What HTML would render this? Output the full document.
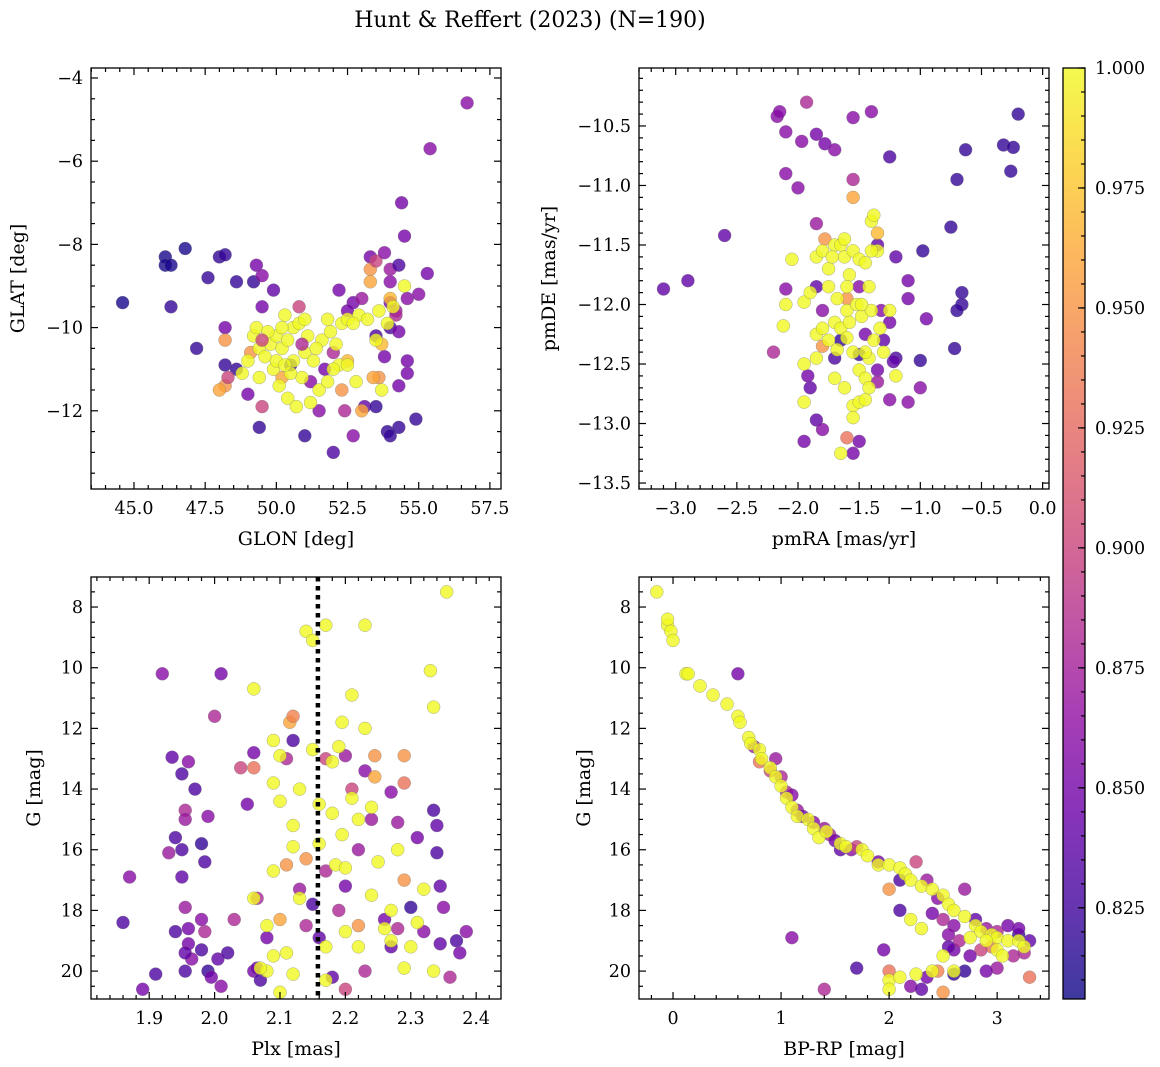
<!DOCTYPE html>
<html><head><meta charset="utf-8"><style>
body{margin:0;background:#fff;}
svg{display:block;font-family:"DejaVu Serif","Liberation Serif",serif;}
</style></head><body>
<svg id="fig" width="1160" height="1067" viewBox="0 0 1160 1067">
<text x="530" y="27" font-size="22" text-anchor="middle">Hunt &amp; Reffert (2023) (N=190)</text>
</svg>
<script>
const VMIN = 0.806, VMAX = 1.0;
const skyPoints = [
[44.6,-9.4,.81],[46.1,-8.3,.81],[46.1,-8.5,.81],[46.3,-8.5,.81],[46.8,-8.1,.81],[46.3,-9.5,.82],[47.2,-10.5,.82],[47.6,-8.8,.82],[48.0,-8.3,.82],[48.2,-8.25,.82],[48.6,-8.9,.82],[49.2,-8.9,.82],[49.3,-8.5,.85],[49.5,-8.75,.86],[49.5,-9.5,.85],[49.9,-9.1,.84],[50.8,-9.5,.9],[52.2,-9.1,.85],[52.7,-9.4,.85],[52.5,-9.6,.85],[53.3,-8.3,.85],[53.3,-8.6,.95],[53.5,-8.4,.9],[53.8,-8.2,.86],[54.0,-8.6,.87],[54.3,-8.5,.83],[54.4,-7.0,.85],[54.5,-7.8,.85],[55.3,-8.7,.85],[55.4,-5.7,.86],[56.7,-4.6,.86],[54.0,-8.9,.86],[54.0,-9.4,.85],[54.6,-9.3,.86],[55.0,-9.2,.86],[54.5,-9.0,1],[54.2,-9.6,.87],[53.0,-9.3,.87],
[49.0,-11.6,.85],[49.4,-12.4,.82],[51.0,-12.6,.82],[51.5,-12.0,.86],[52.0,-13.0,.83],[52.4,-12.0,.88],[52.7,-12.6,.86],[53.1,-11.9,.84],[53.5,-11.9,.82],[53.9,-12.5,.82],[54.0,-12.6,.82],[54.3,-12.4,.82],[54.9,-12.2,.82],[54.6,-11.1,.85],[54.6,-10.8,.85],[54.3,-11.4,.85],[53.6,-11.2,.95],[53.8,-10.7,.85],[53.5,-10.2,.83],[54.0,-10.0,.83],[54.3,-10.1,.85],[54.2,-9.7,.88],[48.2,-10.0,.85],[48.2,-10.9,.82],[48.6,-11.0,.82],[48.2,-11.4,.95],[48.3,-11.2,.9],[49.5,-11.9,.9],[50.5,-10.9,.82],[51.2,-11.3,.86],[52.0,-10.6,.88],[51.7,-11.0,.85],
[48.2,-10.3,.95],[48.0,-11.5,.96],[53.4,-11.2,.96],[53.0,-12.0,.96],[53.7,-10.4,.97],[52.5,-10.8,.97],[50.2,-11.2,.96],[49.1,-10.6,.95],[52.3,-11.5,.95],[53.3,-8.9,.96],[54.0,-9.3,.97],
[49.2,-10.2,1],[49.4,-10.5,1],[49.8,-10.4,1],[49.6,-10.7,1],[49.9,-11.0,1],[50.0,-10.2,1],[50.2,-10.5,1],[50.4,-10.3,1],[50.6,-10.0,1],[50.8,-9.9,1],[50.6,-10.8,1],[50.9,-11.2,1],[50.1,-11.4,1],[50.4,-11.7,1],[50.7,-11.9,1],[51.0,-10.6,1],[51.3,-10.8,1],[51.6,-10.3,1],[51.9,-10.1,1],[52.1,-10.4,1],[52.3,-9.9,1],[52.5,-9.8,1],[52.9,-9.7,1],[53.2,-9.8,1],[53.6,-9.6,1],[54.1,-9.5,1],[52.2,-10.9,1],[52.5,-10.9,1],[52.8,-11.3,1],[52.0,-11.0,1],[51.5,-11.5,1],[51.2,-11.8,1],[49.4,-11.2,1],[49.0,-10.8,1],[48.8,-11.1,1],[49.3,-10.0,1],[50.3,-9.7,1],[51.0,-9.8,1],[51.8,-9.8,1],[53.7,-11.5,1],[53.5,-10.3,1],[53.9,-9.9,1],[50.0,-10.8,1],[50.5,-11.1,1],[51.1,-10.2,1],
[49.7,-10.1,1],[50.3,-10.9,1],[51.4,-10.5,1],[52.7,-9.9,1],[49.5,-10.3,.9],[50.9,-10.4,.88],[51.8,-11.3,1],[50.2,-10.0,1]
];
const pmPoints = [
[-3.1,-11.87,.84],[-2.9,-11.8,.84],[-2.6,-11.42,.84],[-2.17,-10.42,.86],[-2.15,-10.38,.86],[-2.1,-10.55,.86],[-1.93,-10.3,.88],[-1.97,-10.63,.86],[-1.85,-10.57,.85],[-1.78,-10.65,.85],[-1.7,-10.7,.86],[-1.55,-10.43,.86],[-1.4,-10.38,.86],[-1.55,-10.95,.88],[-1.25,-10.76,.83],[-2.1,-10.9,.86],[-2.0,-11.02,.86],[-0.63,-10.7,.82],[-0.32,-10.66,.82],[-0.24,-10.68,.82],[-0.26,-10.88,.82],[-0.2,-10.4,.82],[-0.7,-10.95,.82],[-0.75,-11.35,.82],[-0.66,-11.9,.82],[-0.66,-12.0,.82],[-0.7,-12.05,.82],[-0.72,-12.37,.82],[-0.98,-11.55,.82],[-1.0,-12.47,.82],[-0.95,-12.12,.85],[-1.1,-12.82,.86],[-1.0,-12.7,.86],[-1.1,-11.8,.85],[-1.1,-11.95,.85],[-1.2,-11.6,.84],[-1.35,-11.5,.84],[-1.5,-13.15,.85],[-1.55,-13.25,.85],[-1.95,-13.15,.85],[-1.85,-12.97,.84],[-1.8,-13.05,.86],[-1.9,-12.7,.84],[-1.92,-12.6,.85],[-2.2,-12.4,.88],[-2.1,-11.87,.86],[-1.85,-11.32,.87],[-1.85,-11.85,.84],[-1.6,-13.12,.93],[-1.35,-11.4,.97],[-1.55,-11.1,.96],[-1.45,-12.25,.85],[-1.3,-12.3,.84],[-1.2,-12.45,.83],[-1.32,-12.05,.86],[-1.25,-12.15,.85],[-1.65,-12.3,.82],[-1.7,-12.45,.83],[-1.5,-12.42,.82],[-1.35,-12.55,.85],[-1.8,-12.05,.86],[-1.5,-11.85,.86],[-1.35,-12.65,.87],[-1.25,-12.8,.86],[-1.22,-12.48,.84],[-1.8,-12.35,.95],[-1.78,-11.45,.95],[-1.6,-11.95,.95],
[-2.05,-11.62,1],[-2.1,-12.0,1],[-2.12,-12.18,1],[-1.95,-11.98,1],[-1.9,-11.9,1],[-1.85,-11.6,1],[-1.8,-11.55,1],[-1.75,-11.7,1],[-1.7,-11.5,1],[-1.65,-11.5,1],[-1.62,-11.6,1],[-1.58,-11.75,1],[-1.55,-11.55,1],[-1.5,-11.62,1],[-1.45,-11.65,1],[-1.4,-11.3,1],[-1.38,-11.25,1],[-1.35,-11.55,1],[-1.75,-11.85,1],[-1.68,-11.95,1],[-1.6,-12.05,1],[-1.52,-12.0,1],[-1.48,-12.1,1],[-1.42,-11.85,1],[-1.4,-12.05,1],[-1.85,-12.25,1],[-1.8,-12.2,1],[-1.75,-12.3,1],[-1.7,-12.15,1],[-1.65,-12.2,1],[-1.6,-12.28,1],[-1.55,-12.4,1],[-1.5,-12.55,1],[-1.45,-12.62,1],[-1.42,-12.45,1],[-1.38,-12.3,1],[-1.33,-12.2,1],[-1.7,-12.62,1],[-1.62,-12.7,1],[-1.55,-12.85,1],[-1.5,-12.82,1],[-1.45,-12.8,1],[-1.42,-12.7,1],[-1.55,-12.95,1],[-1.65,-13.25,1],[-1.95,-12.82,1],[-1.95,-12.5,1],[-1.85,-12.45,1],[-1.2,-12.6,1],[-1.48,-12.0,1],[-1.4,-11.55,1],[-1.3,-12.4,1],[-1.25,-12.05,1],[-1.6,-11.85,1],
[-1.72,-11.6,1],[-1.62,-11.45,1],[-1.58,-12.15,1],[-1.68,-12.38,1],[-1.45,-12.4,1]
];
const plxPoints = [
[1.86,18.4,.83],[1.89,20.6,.85],[1.87,16.9,.86],[1.91,20.1,.83],[1.92,10.2,.86],[1.93,16.1,.87],[1.94,15.6,.83],[1.935,12.95,.84],[1.95,13.5,.83],[1.94,18.7,.83],[1.95,16.0,.83],[1.95,16.9,.84],[1.955,14.7,.88],[1.96,13.1,.86],[1.955,15.0,.87],[1.955,17.9,.87],[1.96,18.6,.85],[1.97,14.0,.83],[1.96,19.1,.85],[1.965,19.6,.86],[1.955,19.4,.84],[1.955,20.0,.83],[1.98,15.8,.82],[1.985,16.4,.83],[1.99,14.9,.86],[1.98,18.3,.86],[1.98,19.3,.83],[1.99,20.0,.82],[1.985,18.7,.88],[1.995,20.2,.85],[2.0,11.6,.88],[2.005,19.6,.84],[2.01,10.2,.85],[2.01,20.5,.86],[2.02,19.4,.83],[2.03,18.3,.88],[2.04,13.3,.9],[2.05,14.5,.85],[2.06,13.3,.93],[2.06,20.0,.85],[2.065,17.6,.88],[2.07,20.3,.83],[2.06,12.8,.85],[2.065,19.9,.85],[2.08,18.9,.85],[2.11,13.0,.88],[2.12,12.4,.83],[2.115,11.8,.96],[2.13,17.3,.87],[2.14,18.5,.88],[2.15,17.8,.83],[2.16,18.9,.84],[2.17,13.0,.9],[2.17,16.7,.88],[2.18,20.2,.84],[2.19,18.0,.88],[2.2,17.2,.85],[2.2,20.6,.9],[2.21,14.0,.9],[2.2,12.9,.87],[2.22,16.0,.87],[2.23,13.4,.86],[2.23,20.0,.88],[2.24,15.0,.87],[2.245,12.9,.95],[2.245,13.6,.96],[2.26,18.3,.85],[2.27,19.2,.84],[2.28,15.1,.87],[2.28,18.6,.88],[2.29,12.9,.95],[2.29,13.8,.93],[2.3,17.9,.82],[2.31,15.6,.85],[2.32,18.7,.86],[2.335,14.7,.83],[2.34,15.2,.84],[2.345,19.1,.84],[2.35,17.9,.86],[2.36,20.2,.88],[2.37,19.0,.83],[2.375,19.4,.85],[2.385,18.7,.86],[2.34,16.1,.83],[2.345,17.2,.84],[2.27,14.1,.86],[2.12,11.6,.94],[2.22,18.5,.95],[2.29,17.0,.95],[2.11,16.5,.95],[2.1,18.3,.96],[2.14,16.3,.95],
[2.06,10.7,1],[2.1,12.9,1],[2.09,12.4,1],[2.09,13.8,1],[2.1,14.4,1],[2.09,16.7,1],[2.08,18.5,1],[2.09,19.5,1],[2.08,20.0,1],[2.1,20.7,1],[2.12,20.1,1],[2.12,15.2,1],[2.13,14.0,1],[2.12,15.9,1],[2.13,17.6,1],[2.14,8.8,1],[2.15,9.1,1],[2.16,14.5,1],[2.16,15.8,1],[2.17,8.6,1],[2.17,19.2,1],[2.17,20.3,1],[2.18,13.1,1],[2.18,14.8,1],[2.185,16.5,1],[2.19,12.6,1],[2.195,15.5,1],[2.2,16.6,1],[2.2,18.7,1],[2.21,10.9,1],[2.21,14.3,1],[2.22,15.0,1],[2.22,19.2,1],[2.23,8.6,1],[2.23,12.0,1],[2.24,17.5,1],[2.24,14.6,1],[2.25,16.4,1],[2.26,18.6,1],[2.27,18.0,1],[2.27,19.0,1],[2.28,16.0,1],[2.29,19.9,1],[2.3,19.2,1],[2.31,18.4,1],[2.32,17.3,1],[2.33,10.1,1],[2.335,11.3,1],[2.335,20.0,1],[2.355,7.5,1],[2.06,17.6,1],[2.07,19.9,1],[2.11,19.4,1],[2.15,12.7,1],[2.195,11.8,1]
];
const cmdPoints = [
[0.6,10.2,.85],[0.75,12.6,.87],[0.8,13.1,.93],[0.9,13.4,.9],[0.95,13.0,.87],[1.0,13.6,.88],[1.05,14.1,.88],[1.1,14.2,.86],[1.15,14.7,.87],[1.2,14.9,.85],[1.3,15.1,.86],[1.4,15.3,.87],[1.45,15.5,.88],[1.5,15.7,.85],[1.55,16.0,.84],[1.65,16.0,.86],[1.7,15.9,.9],[1.9,16.4,.85],[2.25,16.4,.9],[2.1,17.0,.83],[2.0,17.3,.95],[1.1,18.9,.86],[1.4,20.6,.88],[1.7,19.9,.83],[1.95,19.3,.85],[2.0,20.0,.93],[2.2,20.5,.86],[2.3,20.6,.84],[2.35,20.2,.85],[2.45,20.0,.94],[2.5,20.7,.95],[2.6,20.1,.82],[2.7,20.0,.82],[2.1,18.0,.83],[2.35,17.0,.87],[2.45,17.6,.86],[2.5,18.3,.88],[2.6,18.5,.86],[2.7,17.3,.87],[2.8,18.3,.84],[2.9,18.6,.87],[3.0,18.7,.88],[3.1,18.5,.85],[3.2,18.8,.82],[3.3,19.0,.84],[3.15,19.5,.88],[2.95,19.2,.93],[2.85,19.3,.9],[2.75,19.5,.85],[2.6,19.3,.85],[2.55,18.8,.86],[3.0,19.9,.87],[2.9,20.0,.85],[3.25,19.4,.88],[3.3,20.2,.93],[3.2,18.6,.85],[2.65,19.0,.88],[2.4,18.1,.85],[2.55,19.2,.84],
[-0.15,7.5,1],[-0.05,8.6,1],[-0.05,8.4,1],[-0.02,8.8,1],[0.0,9.1,1],[0.12,10.2,1],[0.14,10.2,1],[0.25,10.6,1],[0.37,10.9,1],[0.5,11.2,1],[0.6,11.6,1],[0.62,11.8,1],[0.7,12.3,1],[0.72,12.5,1],[0.8,12.7,1],[0.82,13.0,1],[0.9,13.3,1],[0.95,13.6,1],[1.0,13.9,1],[1.05,14.3,1],[1.1,14.6,1],[1.15,14.9,1],[1.25,15.0,1],[1.3,15.3,1],[1.35,15.6,1],[1.42,15.4,1],[1.55,15.8,1],[1.6,15.9,1],[1.75,16.0,1],[1.8,16.2,1],[1.9,16.5,1],[2.0,16.5,1],[2.1,16.6,1],[2.15,16.8,1],[2.2,17.0,1],[2.3,17.2,1],[2.4,17.3,1],[2.5,17.5,1],[2.55,17.8,1],[2.6,18.0,1],[2.7,18.2,1],[2.8,18.5,1],[2.85,18.7,1],[2.95,18.8,1],[3.0,18.9,1],[3.1,19.0,1],[3.2,19.0,1],[3.25,19.2,1],[2.2,18.3,1],[2.3,18.6,1],[2.0,20.3,1],[2.1,20.2,1],[2.25,20.1,1],[2.4,20.0,1],[2.6,20.0,1],[2.0,20.6,1],[2.5,19.5,1],[2.75,18.9,1],[2.9,19.0,1],[3.0,19.3,1],[3.05,19.5,1]
];
const plxCut = 2.158;
const cbTicks = [0.825,0.850,0.875,0.900,0.925,0.950,0.975,1.000];

const NS = "http://www.w3.org/2000/svg";
const svg = document.getElementById('fig');
function el(tag, attrs, parent) {
  const e = document.createElementNS(NS, tag);
  for (const k in attrs) e.setAttribute(k, attrs[k]);
  (parent || svg).appendChild(e);
  return e;
}
const stops = ["#0d0887","#41049d","#6a00a8","#8f0da4","#b12a90","#cc4778","#e16462","#f2844b","#fca636","#fcce25","#f0f921"];
function hex(h){return [parseInt(h.substr(1,2),16),parseInt(h.substr(3,2),16),parseInt(h.substr(5,2),16)];}
function cmap(p){
  let t = (p-VMIN)/(VMAX-VMIN); t = Math.max(0,Math.min(1,t));
  const f = t*10, i = Math.min(9,Math.floor(f)), r = f-i;
  const a = hex(stops[i]), b = hex(stops[i+1]);
  return `rgb(${a.map((v,k)=>Math.round(v+(b[k]-v)*r)).join(',')})`;
}
function fmt(v, d){ return (v<0?'\u2212':'') + Math.abs(v).toFixed(d); }

function panel(cfg){
  const {name,x0,x1,y0,y1,xmin,xmax,ymin,ymax,invert,xMaj,xMin,yMaj,yMin,xd,yd,pts,xlabel,ylabel,ylabelX} = cfg;
  const g = el('g', {});
  
  
  const sx = v => x0 + (v-xmin)/(xmax-xmin)*(x1-x0);
  const sy = v => invert ? y0 + (v-ymin)/(ymax-ymin)*(y1-y0) : y1 - (v-ymin)/(ymax-ymin)*(y1-y0);
  const clip = 'clip-'+name;
  const cp = el('clipPath', {id:clip}, g);
  el('rect', {x:x0,y:y0,width:x1-x0,height:y1-y0}, cp);
  const pg = el('g', {'clip-path':`url(#${clip})`}, g);
  
  
  pts.forEach(p=>{
    const c = el('circle', {cx:sx(p[0]).toFixed(1), cy:sy(p[1]).toFixed(1), r:6.5, fill:cmap(p[2]), 'fill-opacity':0.8, stroke:'#777', 'stroke-opacity':0.6, 'stroke-width':0.5}, pg);
    
    
  });
  if (cfg.extra) cfg.extra(pg, sx, sy);
  const tg = el('g', {stroke:'#000','stroke-width':1.2}, g);
  const eps = 1e-9;
  for (let v = Math.ceil(xmin/xMin-eps)*xMin; v <= xmax+eps; v += xMin) {
    const isMaj = Math.abs(v/xMaj - Math.round(v/xMaj)) < 1e-6;
    const L = isMaj ? 7 : 4, X = sx(v);
    el('line',{x1:X,y1:y1,x2:X,y2:y1-L},tg); el('line',{x1:X,y1:y0,x2:X,y2:y0+L},tg);
    if (isMaj) {
      const t = el('text',{x:X,y:y1+25,'font-size':17.5,'text-anchor':'middle',stroke:'none'},g);
      t.textContent = fmt(Math.round(v/xMaj)*xMaj, xd);
      
      
    }
  }
  for (let v = Math.ceil(ymin/yMin-eps)*yMin; v <= ymax+eps; v += yMin) {
    const isMaj = Math.abs(v/yMaj - Math.round(v/yMaj)) < 1e-6;
    const L = isMaj ? 7 : 4, Y = sy(v);
    el('line',{x1:x0,y1:Y,x2:x0+L,y2:Y},tg); el('line',{x1:x1,y1:Y,x2:x1-L,y2:Y},tg);
    if (isMaj) {
      const t = el('text',{x:x0-8,y:Y+6,'font-size':17.5,'text-anchor':'end',stroke:'none'},g);
      t.textContent = fmt(Math.round(v/yMaj)*yMaj, yd);
      
      
    }
  }
  const fr = el('rect',{x:x0,y:y0,width:x1-x0,height:y1-y0,fill:'none',stroke:'#000','stroke-width':1.3},g);
  
  
  const xl = el('text',{x:(x0+x1)/2,y:y1+56,'font-size':19,'text-anchor':'middle'},g);
  xl.textContent = xlabel;
  
  
  const yc = (y0+y1)/2;
  const yl = el('text',{x:ylabelX,y:yc,'font-size':19,'text-anchor':'middle',transform:`rotate(-90 ${ylabelX} ${yc})`},g);
  yl.textContent = ylabel;
  
  
}

panel({name:'sky-panel',x0:91,x1:501,y0:68,y1:489,xmin:43.49,xmax:57.89,ymin:-13.88,ymax:-3.76,xMaj:2.5,xMin:0.5,yMaj:2,yMin:0.5,xd:1,yd:0,pts:skyPoints,xlabel:'GLON [deg]',ylabel:'GLAT [deg]',ylabelX:24});
panel({name:'pm-panel',x0:639,x1:1049,y0:68,y1:489,xmin:-3.30,xmax:0.052,ymin:-13.55,ymax:-10.013,xMaj:0.5,xMin:0.1,yMaj:0.5,yMin:0.1,xd:1,yd:1,pts:pmPoints,xlabel:'pmRA [mas/yr]',ylabel:'pmDE [mas/yr]',ylabelX:555});
panel({name:'plx-panel',x0:91,x1:501,y0:577,y1:999,xmin:1.811,xmax:2.438,ymin:7.01,ymax:20.92,invert:true,xMaj:0.1,xMin:0.02,yMaj:2,yMin:0.5,xd:1,yd:0,pts:plxPoints,xlabel:'Plx [mas]',ylabel:'G [mag]',ylabelX:40,
  extra:(pg,sx,sy)=>{
    const l = el('line',{x1:sx(plxCut),x2:sx(plxCut),y1:577,y2:999,stroke:'#000','stroke-width':4.5,'stroke-dasharray':'4.5,4.5'},pg);
    
    
  }});
panel({name:'cmd-panel',x0:639,x1:1049,y0:577,y1:999,xmin:-0.315,xmax:3.48,ymin:7.01,ymax:20.92,invert:true,xMaj:1,xMin:0.2,yMaj:2,yMin:0.5,xd:0,yd:0,pts:cmdPoints,xlabel:'BP-RP [mag]',ylabel:'G [mag]',ylabelX:590});

(function(){
  const cx0=1063, cx1=1085, cy0=68, cy1=999;
  const g = el('g', {});
  
  
  const defs = el('defs',{},g);
  const lg = el('linearGradient',{id:'cbgrad',x1:0,y1:1,x2:0,y2:0},defs);
  stops.forEach((s,i)=>el('stop',{offset:i/10,'stop-color':s},lg));
  el('rect',{x:cx0,y:cy0,width:cx1-cx0,height:cy1-cy0,fill:'url(#cbgrad)','fill-opacity':0.8},g);
  const sy = v => cy1 - (v-VMIN)/(VMAX-VMIN)*(cy1-cy0);
  for (let v = Math.ceil(VMIN/0.005)*0.005; v <= VMAX+1e-9; v += 0.005) {
    const Y = sy(v);
    el('line',{x1:cx1,x2:cx1-4,y1:Y,y2:Y,stroke:'#000','stroke-width':1.2},g);
  }
  cbTicks.forEach(v=>{
    const Y = sy(v);
    el('line',{x1:cx1,x2:cx1-7,y1:Y,y2:Y,stroke:'#000','stroke-width':1.2},g);
    const t = el('text',{x:cx1+10,y:Y+6,'font-size':17.5},g);
    t.textContent = v.toFixed(3);
    
    
  });
  el('rect',{x:cx0,y:cy0,width:cx1-cx0,height:cy1-cy0,fill:'none',stroke:'#000','stroke-width':1.3},g);
})();
</script>
</body></html>
